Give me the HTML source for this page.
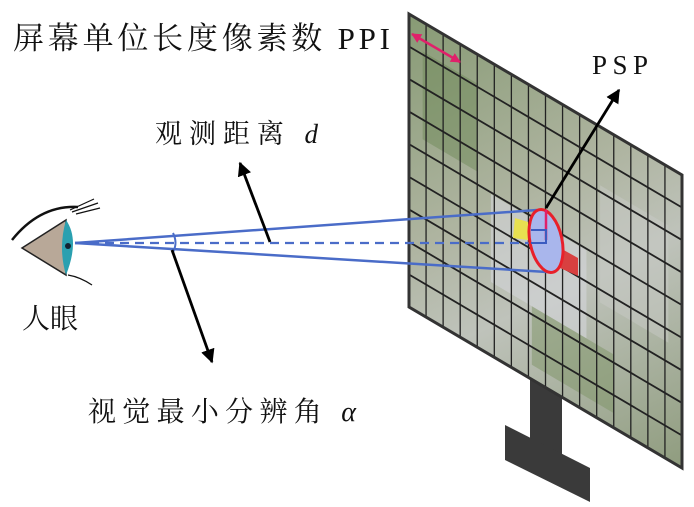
<!DOCTYPE html>
<html><head><meta charset="utf-8"><style>
html,body{margin:0;padding:0;background:#fff;width:694px;height:507px;overflow:hidden}
text{font-family:"Liberation Serif","Noto Serif CJK SC",serif;fill:#111}
</style></head><body>
<svg width="694" height="507" viewBox="0 0 694 507" xmlns="http://www.w3.org/2000/svg">
<defs>
<linearGradient id="scr" x1="0" y1="0" x2="1" y2="1">
<stop offset="0" stop-color="#879a74"/><stop offset="0.4" stop-color="#aeb4a0"/>
<stop offset="0.6" stop-color="#bfc3bb"/><stop offset="1" stop-color="#8f9c7e"/>
</linearGradient>
<marker id="ah" viewBox="0 0 10 10" refX="9" refY="5" markerWidth="5" markerHeight="5" orient="auto-start-reverse"><path d="M0,0L10,5L0,10z" fill="#000"/></marker>
<marker id="ap" viewBox="0 0 10 10" refX="9" refY="5" markerWidth="4" markerHeight="4" orient="auto-start-reverse"><path d="M0,0L10,5L0,10z" fill="#e0206a"/></marker>
</defs>
<rect x="530" y="370" width="32" height="90" fill="#3a3a3a"/>
<polygon points="505,425 590,468 590,502 505,460" fill="#3a3a3a"/>
<g transform="matrix(273,161,0,293,409,14)">
<rect x="0" y="0" width="1" height="1" fill="url(#scr)"/>
<rect x="0.3" y="0.45" width="0.35" height="0.3" fill="#d4d6da" opacity="0.6"/>
<rect x="0.7" y="0.2" width="0.25" height="0.4" fill="#c8cac6" opacity="0.5"/>
<rect x="0.05" y="0.1" width="0.2" height="0.3" fill="#6f8a5a" opacity="0.5"/>
<rect x="0.45" y="0.75" width="0.3" height="0.2" fill="#7d9466" opacity="0.5"/>
<g stroke="#222" stroke-width="1.3" fill="none">
<path vector-effect="non-scaling-stroke" d="M0.0625,0V1M0.125,0V1M0.1875,0V1M0.25,0V1M0.3125,0V1M0.375,0V1M0.4375,0V1M0.5,0V1M0.5625,0V1M0.625,0V1M0.6875,0V1M0.75,0V1M0.8125,0V1M0.875,0V1M0.9375,0V1"/>
<path vector-effect="non-scaling-stroke" stroke-width="1.8" d="M0,0.111H1M0,0.222H1M0,0.333H1M0,0.444H1M0,0.556H1M0,0.667H1M0,0.778H1M0,0.889H1"/>
<rect vector-effect="non-scaling-stroke" x="0" y="0" width="1" height="1" stroke="#333" stroke-width="3"/>
</g>
</g>
<polygon points="515,218 528,222 528,240 513,238" fill="#e8e050"/>
<polygon points="560,248 578,258 578,276 560,268" fill="#d84040"/>
<line x1="412" y1="34" x2="460" y2="62" stroke="#e0206a" stroke-width="2.5" marker-start="url(#ap)" marker-end="url(#ap)"/>
<line x1="75" y1="243" x2="537" y2="210" stroke="#4a6cc8" stroke-width="2.5"/>
<line x1="75" y1="243" x2="547" y2="272" stroke="#4a6cc8" stroke-width="2.5"/>
<line x1="75" y1="243" x2="547" y2="243" stroke="#4a6cc8" stroke-width="2.2" stroke-dasharray="9,6"/>
<path d="M173,233 Q178,243 173,252" stroke="#4a6cc8" stroke-width="2" fill="none"/>
<ellipse cx="546" cy="241" rx="16" ry="32" transform="rotate(-12 546 241)" fill="#a9b6ec" stroke="#e8202a" stroke-width="3"/>
<line x1="546" y1="210" x2="546" y2="240" stroke="#e0206a" stroke-width="2.5"/>
<polyline points="531,230 546,230 546,243 531,243" stroke="#3b5cc0" stroke-width="2" fill="none"/>
<line x1="546" y1="208" x2="619" y2="90" stroke="#000" stroke-width="2.8" marker-end="url(#ah)"/>
<line x1="270" y1="242" x2="240" y2="163" stroke="#000" stroke-width="2.8" marker-end="url(#ah)"/>
<line x1="172" y1="250" x2="212" y2="362" stroke="#000" stroke-width="2.8" marker-end="url(#ah)"/>
<path d="M22,248 L66,220 L66,275 Z" fill="#b8a898" stroke="#222" stroke-width="1.5"/>
<path d="M66,220 Q80,240 66,275 Q58,248 66,220z" fill="#2aa0b0"/>
<circle cx="68" cy="246" r="3" fill="#123"/>
<path d="M12,240 Q40,205 78,207" stroke="#111" stroke-width="2.5" fill="none"/>
<path d="M72,212 L98,203 M76,214 L100,208 M70,210 L94,199" stroke="#111" stroke-width="1.2"/>
<path d="M68,275 Q80,277 92,285" stroke="#111" stroke-width="1.2" fill="none"/>
<text x="13" y="49" font-size="31" textLength="377" lengthAdjust="spacing">屏幕单位长度像素数 PPI</text>
<text x="155" y="143" font-size="27" textLength="163" lengthAdjust="spacing">观测距离 <tspan font-style="italic">d</tspan></text>
<text x="592" y="74" font-size="27" textLength="56" lengthAdjust="spacing">PSP</text>
<text x="22" y="328" font-size="28">人眼</text>
<text x="88" y="421" font-size="28" textLength="268" lengthAdjust="spacing">视觉最小分辨角 <tspan font-style="italic">α</tspan></text>
</svg>
</body></html>
